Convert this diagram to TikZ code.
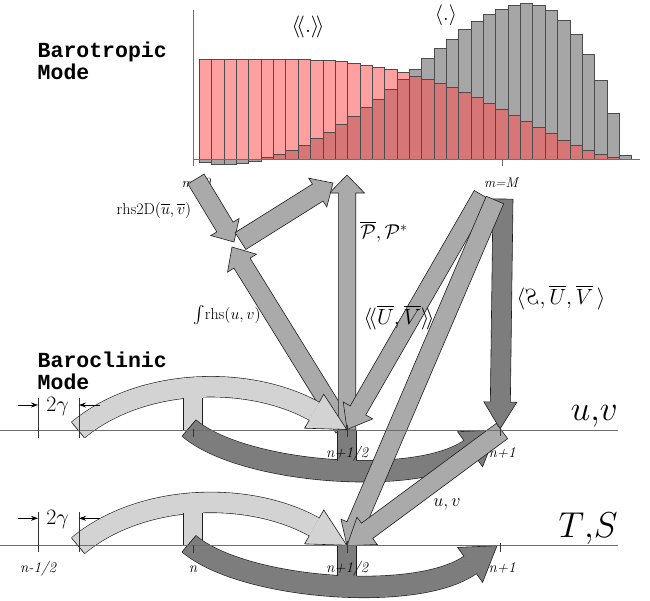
\RequirePackage{fix-cm}
\documentclass[tikz,border=0pt]{standalone}
\usepackage{amsmath}
\usepackage{fontspec}
\usepackage{graphicx}
\newfontfamily\modefont{Liberation Mono}
\usetikzlibrary{calc,arrows.meta}
\definecolor{graybar}{RGB}{166,166,166}
\definecolor{pinkbar}{RGB}{255,160,160}
\definecolor{overbar}{RGB}{214,118,118}
\definecolor{lightarc}{RGB}{211,211,211}
\definecolor{midarr}{RGB}{170,170,170}
\definecolor{darkarr}{RGB}{125,125,125}
\definecolor{axisgray}{RGB}{110,110,110}
\definecolor{outc}{RGB}{30,30,30}

% straight block arrow: #1 fill, #2 from, #3 to, #4 half shaft, #5 half head, #6 head length
\newcommand\blockarrow[6]{%
  \path ($(#3)!#6!(#2)$) coordinate (bahb);
  \filldraw[outl,fill=#1] ($(#2)!#4!90:(#3)$) -- ($(bahb)!#4!90:(#3)$) -- ($(bahb)!#5!90:(#3)$) -- (#3)
     -- ($(bahb)!#5!-90:(#3)$) -- ($(bahb)!#4!-90:(#3)$) -- ($(#2)!#4!-90:(#3)$) -- cycle;}

% curved block arrow: #1 fill, #2 start, #3 c1, #4 c2, #5 head base, #6 tip, #7 half shaft, #8 half head
\newcommand\curvearrow[8]{%
  \draw[line width=0.6pt,draw=outc,double=#1,double distance=2*#7] (#2) .. controls (#3) and (#4) .. (#5);
  \draw[outl] ($(#2)!#7!90:(#3)$) -- ($(#2)!#7!-90:(#3)$);
  \fill[#1] ($(#5)!#8!90:(#6)$) -- (#6) -- ($(#5)!#8!-90:(#6)$) -- cycle;
  \draw[outl] ($(#5)!#7!90:(#6)$) -- ($(#5)!#8!90:(#6)$) -- (#6) -- ($(#5)!#8!-90:(#6)$) -- ($(#5)!#7!-90:(#6)$);}

% one time-stepping layer: #1 name prefix, #2 vertical offset
\newcommand\steplayer[2]{%
  \begin{scope}[shift={(0,#2)}]
    \coordinate (#1ls) at (78,430);
    \coordinate (#1lcA) at (141,377.4);
    \coordinate (#1lcB) at (248.6,374.7);
    \coordinate (#1lhb) at (314.2,411.2);
    \coordinate (#1lt) at (346.7,429.5);
    \coordinate (#1ds) at (189,428);
    \coordinate (#1dcA) at (242,473.7);
    \coordinate (#1dcB) at (417.2,487);
    \coordinate (#1dhb) at (470.1,449.2);
    \coordinate (#1dt) at (497,430);
    \curvearrow{lightarc}{#1ls}{#1lcA}{#1lcB}{#1lhb}{#1lt}{10pt}{19.5pt}
    \fill[lightarc] (183.5,391) rectangle (202.5,430);
    \draw[outl] (183.5,397.5) -- (183.5,430) -- (202.5,430) -- (202.5,397.5);
    \curvearrow{darkarr}{#1ds}{#1dcA}{#1dcB}{#1dhb}{#1dt}{10.5pt}{21.5pt}
    \fill[darkarr] (337.5,430) rectangle (356.5,465);
    \draw[outl] (337.5,460.6) -- (337.5,430) -- (356.5,430) -- (356.5,460.6);
  \end{scope}}

\begin{document}
\begin{tikzpicture}[x=1pt,y=-1pt,
  outl/.style={line width=0.6pt,draw=outc,line join=miter},
  barline/.style={line width=0.6pt,draw=black!70},
  axisline/.style={line width=1pt,draw=axisgray},
  lab/.style={inner sep=0pt},
  nlab/.style={inner sep=0pt,anchor=base,font=\fontsize{15}{18}\selectfont\itshape},
  modelab/.style={inner sep=0pt,anchor=north west,align=left,font=\fontsize{21.5}{22}\selectfont\modefont\bfseries},
  dimarrow/.style={-{Stealth[length=7pt,width=5pt]},line width=0.8pt},
  dimline/.style={line width=0.8pt,draw=black!80}]
\useasboundingbox (0,0) rectangle (650,600);

% ---------------- histogram ----------------
\foreach \g/\r [count=\i from 0] in {487/178,493/178,493/178,490/178,483/178,473/178,463/178,450/178,435/178,415/180,397/182,373/185,350/190,323/196,297/202,268/208,238/217,207/228,174/238,145/250,117/263,88/278,63/293,43/310,27/328,16/346,11/364,17/381,32/401,61/420,102/436,162/451,241/463,341/472,466/478}{
  \pgfmathsetmacro\xa{199.3+\i*12.35}
  \pgfmathsetmacro\xb{\xa+12.35}
  \pgfmathsetmacro\ov{min(478,max(\g,\r))}
  \draw[barline,fill=graybar] (\xa,159.33) rectangle (\xb,\g/3);
  \draw[barline,fill=pinkbar] (\xa,159.33) rectangle (\xb,\r/3);
  \draw[barline,fill=overbar] (\xa,159.33) rectangle (\xb,\ov/3);
}
\draw[axisline] (193,10) -- (193,166);
\draw[axisline] (193,159.33) -- (640,159.33);
\draw[axisline] (502,159.33) -- (502,166);

\node[lab,font=\fontsize{22}{26}\selectfont] (avgtwo) at (308,27) {$\langle\!\langle.\rangle\!\rangle$};
\node[lab,font=\fontsize{21}{25}\selectfont] (avgone) at (446,15) {$\langle.\rangle$};

\node[modelab] (baro) at (37.5,41.5) {Barotropic\\Mode};
\node[modelab] (bacl) at (37.5,352) {Baroclinic\\Mode};

\node[lab,font=\fontsize{14}{16}\selectfont\itshape] (mzero) at (196,183) {m=0};
\node[lab,font=\fontsize{14}{16}\selectfont\itshape] (mbig) at (501,183) {m=M};

% ---------------- end points ----------------
\coordinate (atail) at (196,179);
\coordinate (atip) at (234,242);
\coordinate (btail) at (240.5,241);
\coordinate (btip) at (333,183);
\coordinate (ctip) at (232,247);
\coordinate (ctail) at (344,428);
\coordinate (ptip) at (347,175);
\coordinate (uvhalf) at (347,430);
\coordinate (mma) at (482,195);
\coordinate (mmb) at (495,200);
\coordinate (mmc) at (503,199);
\coordinate (uvone) at (500,429);
\coordinate (uvoneb) at (502,431);
\coordinate (tshalf) at (347,545.7);
\coordinate (uvhalfb) at (347,429.5);

\blockarrow{midarr}{ctail}{ctip}{9.5pt}{17pt}{19pt}
\blockarrow{midarr}{uvhalf}{ptip}{8.7pt}{17.5pt}{18pt}

\steplayer{uv}{0}
\steplayer{ts}{115.7}

\blockarrow{midarr}{mma}{uvhalfb}{9pt}{17pt}{22pt}
\blockarrow{darkarr}{mmc}{uvone}{10pt}{16.5pt}{27pt}
\blockarrow{midarr}{mmb}{tshalf}{9.5pt}{16pt}{22pt}
\blockarrow{midarr}{uvoneb}{tshalf}{9.5pt}{17pt}{25pt}
\blockarrow{midarr}{atail}{atip}{9.5pt}{16.5pt}{17.5pt}
\blockarrow{midarr}{btail}{btip}{10pt}{17pt}{18pt}

% ---------------- time axes ----------------
\coordinate (uvl) at (0,430); \coordinate (uvr) at (618,430);
\coordinate (tsl) at (0,545.7); \coordinate (tsr) at (618,545.7);
\draw[axisline] (uvl) -- (uvr);
\draw[axisline] (tsl) -- (tsr);
\foreach \yy in {430,545.7}{
  \draw[dimline] (193,\yy-1) -- (193,\yy+7);
  \draw[dimline] (347,\yy-5) -- (347,\yy+7);
  \draw[dimline] (500,\yy-3) -- (500,\yy+6);
}
% 2 gamma dimensions
\foreach \yy/\ya/\yb in {405/398/438, 518.3/512/552}{
  \draw[dimline] (38,\ya) -- (38,\yb);
  \draw[dimline] (79,\ya) -- (79,\yb);
  \draw[dimarrow] (18,\yy) -- (38,\yy);
  \draw[dimarrow] (100,\yy) -- (79,\yy);
}
\node[lab,anchor=base,font=\fontsize{22}{26}\selectfont] (gama) at (57.5,411.5) {$2\gamma$};
\node[lab,anchor=base,font=\fontsize{22}{26}\selectfont] (gamb) at (57.5,524.5) {$2\gamma$};

% ---------------- labels ----------------
\node[lab,font=\fontsize{16}{19}\selectfont] (rhstwo) at (154,210) {rhs2D$(\overline{u},\overline{v})$};
\node[lab,font=\fontsize{20}{24}\selectfont] (plab) at (384,232) {$\overline{\mathcal{P}},\mathcal{P}^*$};
\node[lab,font=\fontsize{16}{19}\selectfont] (intlab) at (227,315) {$\int$rhs$(u,v)$};
\node[lab,font=\fontsize{22}{26}\selectfont] (uvavg) at (399,318) {$\langle\!\langle\overline{U},\overline{V}\rangle\!\rangle$};
\node[lab,font=\fontsize{22}{26}\selectfont] (zlab) at (561,298) {$\langle\mbox{\reflectbox{$S$}},\overline{U},\overline{V}\,\rangle$};
\node[lab,font=\fontsize{18}{21}\selectfont] (uvsmall) at (447,504) {$u,v$};
\node[lab,anchor=base east,font=\fontsize{35}{40}\selectfont] (uvbig) at (618,420) {$u{,}v$};
\node[lab,anchor=base east,font=\fontsize{36}{42}\selectfont] (tsbig) at (618,537) {$T{,}S$};

\node[nlab] (uvnh) at (347,457.5) {n+1/2};
\node[nlab] (uvno) at (502,457.5) {n+1};
\node[nlab] (tsnm) at (38,572) {n-1/2};
\node[nlab] (tsn) at (193,572) {n};
\node[nlab] (tsnh) at (347,572) {n+1/2};
\node[nlab] (tsno) at (502,572) {n+1};
\end{tikzpicture}
\end{document}
